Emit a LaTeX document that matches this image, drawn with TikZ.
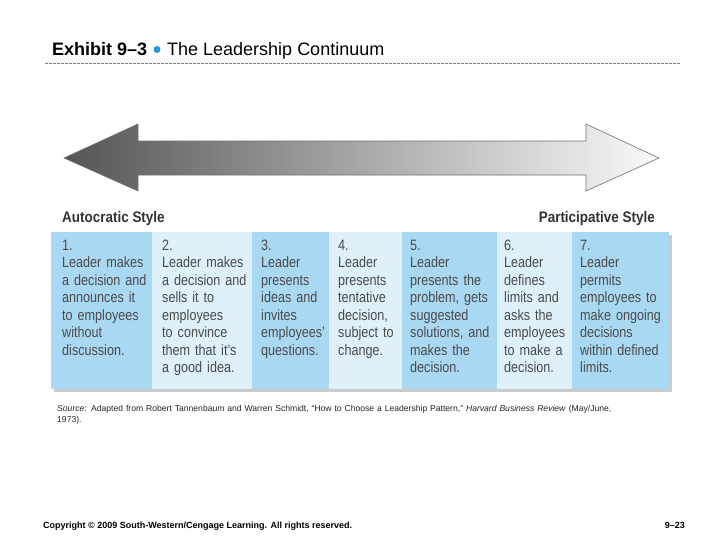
\documentclass[tikz,border=0pt]{standalone}
\usepackage{fontspec}
\setmainfont{Liberation Sans}
\newfontfamily\condfont[FakeStretch=0.84]{Liberation Sans}
\newfontfamily\hdrfont[FakeStretch=0.88]{Liberation Sans}
\definecolor{darkcol}{HTML}{A9D9F2}
\definecolor{lightcol}{HTML}{DEF1FB}
\definecolor{boxtext}{HTML}{4A4A4A}
\definecolor{hdr}{HTML}{333333}
\definecolor{bul}{HTML}{1B9BD7}
\definecolor{arrowL}{HTML}{555555}
\definecolor{arrowM}{HTML}{B3B5B9}
\definecolor{arrowR}{HTML}{FAFAFA}
\definecolor{arrowline}{HTML}{707070}
\definecolor{shadowgray}{HTML}{C9CBCC}
\tikzset{
  colbox/.style={draw=none, inner sep=0, minimum height=157, anchor=north west},
  coltext/.style={anchor=base west, inner sep=0, align=left, text width=#1,
    font=\condfont\fontsize{15}{17.5}\selectfont, text=boxtext},
  hdrtext/.style={inner sep=0, font=\hdrfont\bfseries\fontsize{15.3}{18}\selectfont, text=hdr},
  titletext/.style={anchor=base west, inner sep=0, font=\fontsize{18}{22}\selectfont},
}
\begin{document}
\begin{tikzpicture}[x=1pt,y=-1pt]
\useasboundingbox[fill=white] (0,0) rectangle (728,546);
% title
\node[titletext, font=\fontsize{18}{22}\selectfont\bfseries] (ttl) at (52,55) {Exhibit 9–3};
\node[circle, fill=bul, inner sep=0, minimum size=7] (bul) at (157,49.5) {};
\node[titletext] (sub) at (167,55) {The Leadership Continuum};
\draw[gray, line width=0.7, dash pattern=on 2.5 off 1.5] (45,63) -- (681,63);
% arrow
\shade[left color=arrowL, middle color=arrowM, right color=arrowR]
  (64,158) -- (138,124) -- (138,141) -- (586,141) -- (586,124) -- (659,158)
  -- (586,191) -- (586,175) -- (138,175) -- (138,191) -- cycle;
\draw[arrowline, line width=0.6, line join=miter]
  (64,158) -- (138,124) -- (138,141) -- (586,141) -- (586,124) -- (659,158)
  -- (586,191) -- (586,175) -- (138,175) -- (138,191) -- cycle;
% headers
\node[hdrtext, anchor=base west] (auto) at (62,222) {Autocratic Style};
\node[hdrtext, anchor=base east] (part) at (655,222) {Participative Style};
% shadow
\fill[shadowgray] (54,235) rectangle (672,392);
% columns
\node[colbox, fill=darkcol,  minimum width=101] (c1) at (51,232) {};
\node[colbox, fill=lightcol, minimum width=100] (c2) at (152,232) {};
\node[colbox, fill=darkcol,  minimum width=77]  (c3) at (252,232) {};
\node[colbox, fill=lightcol, minimum width=73]  (c4) at (329,232) {};
\node[colbox, fill=darkcol,  minimum width=95]  (c5) at (402,232) {};
\node[colbox, fill=lightcol, minimum width=75]  (c6) at (497,232) {};
\node[colbox, fill=darkcol,  minimum width=97]  (c7) at (572,232) {};
% column texts
\node[coltext=95] (t1) at (62,250) {1.\\Leader makes\\a decision and\\announces it\\to employees\\without\\discussion.};
\node[coltext=95] (t2) at (162,250) {2.\\Leader makes\\a decision and\\sells it to\\employees\\to convince\\them that it’s\\a good idea.};
\node[coltext=75] (t3) at (261,250) {3.\\Leader\\presents\\ideas and\\invites\\employees’\\questions.};
\node[coltext=75] (t4) at (338,250) {4.\\Leader\\presents\\tentative\\decision,\\subject to\\change.};
\node[coltext=90] (t5) at (410,250) {5.\\Leader\\presents the\\problem, gets\\suggested\\solutions, and\\makes the\\decision.};
\node[coltext=75] (t6) at (504,250) {6.\\Leader\\defines\\limits and\\asks the\\employees\\to make a\\decision.};
\node[coltext=95] (t7) at (580,250) {7.\\Leader\\permits\\employees to\\make ongoing\\decisions\\within defined\\limits.};
% source
\node[anchor=base west, inner sep=0, align=left, text width=640, font=\fontsize{8.6}{11.5}\selectfont, text=black!85] (src) at (57,411)
  {\textit{Source}: Adapted from Robert Tannenbaum and Warren Schmidt, “How to Choose a Leadership Pattern,” \textit{Harvard Business Review} (May/June,\\1973).};
% footer
\node[anchor=base west, inner sep=0, font=\bfseries\fontsize{9}{11}\selectfont] (copy) at (43,528)
  {Copyright © 2009 South-Western/Cengage Learning. All rights reserved.};
\node[anchor=base east, inner sep=0, font=\bfseries\fontsize{9}{11}\selectfont] (pg) at (685,528) {9–23};
\end{tikzpicture}
\end{document}
